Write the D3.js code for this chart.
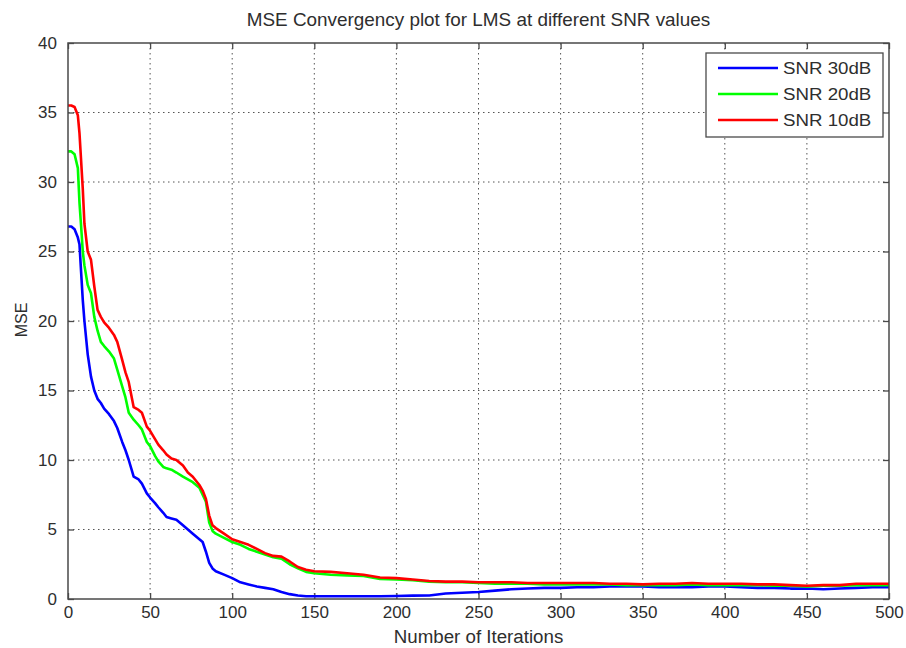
<!DOCTYPE html>
<html>
<head>
<meta charset="utf-8">
<script src="https://cdn.jsdelivr.net/npm/d3@7"></script>
<style>
  body { margin: 0; background: #fff; }
  svg { display: block; font-family: "Liberation Sans", Arial, sans-serif; }
</style>
</head>
<body>
<svg id="chart" width="906" height="648"></svg>
<script>
// Iteration indices at which the MSE learning curves are sampled
const iterations = [0, 2, 4, 6, 7, 8, 9, 10, 12, 14, 16, 18, 20, 22, 25, 28, 30, 33, 35, 37,
  40, 43, 45, 48, 50, 53, 55, 58, 60, 63, 66, 70, 73, 76, 80, 82, 84, 86, 88, 90,
  95, 100, 105, 110, 115, 120, 125, 130, 135, 140, 145, 150, 160, 170, 180, 190, 200,
  210, 220, 230, 240, 250, 260, 270, 280, 290, 300, 310, 320, 330, 340, 350, 360, 370,
  380, 390, 400, 410, 420, 430, 440, 450, 460, 470, 480, 490, 500];

// MSE for SNR = 30 dB
const mseSnr30 = [26.8, 26.8, 26.6, 26.0, 25.5, 23.5, 21.5, 20.0, 17.6, 16.0, 15.0, 14.4, 14.1, 13.7, 13.3, 12.8, 12.3, 11.3, 10.7, 10.0,
  8.8, 8.6, 8.3, 7.6, 7.3, 6.9, 6.6, 6.2, 5.9, 5.8, 5.7, 5.3, 5.0, 4.7, 4.3, 4.1, 3.4, 2.6, 2.2, 2.0,
  1.75, 1.5, 1.2, 1.05, 0.9, 0.8, 0.7, 0.5, 0.35, 0.25, 0.2, 0.2, 0.2, 0.2, 0.2, 0.2, 0.22,
  0.24, 0.25, 0.4, 0.45, 0.5, 0.6, 0.7, 0.75, 0.8, 0.8, 0.85, 0.85, 0.9, 0.9, 0.9, 0.85, 0.85,
  0.85, 0.9, 0.9, 0.85, 0.8, 0.8, 0.75, 0.75, 0.7, 0.75, 0.8, 0.85, 0.85];

// MSE for SNR = 20 dB
const mseSnr20 = [32.2, 32.2, 32.0, 31.0, 28.5, 26.8, 25.0, 24.0, 22.6, 22.0, 20.3, 19.3, 18.5, 18.2, 17.8, 17.3, 16.5, 15.3, 14.5, 13.4,
  12.9, 12.5, 12.2, 11.3, 11.0, 10.3, 9.9, 9.5, 9.4, 9.3, 9.1, 8.8, 8.6, 8.4, 8.0, 7.5, 7.0, 5.5, 4.9, 4.7,
  4.4, 4.1, 3.9, 3.6, 3.4, 3.2, 3.0, 2.9, 2.5, 2.2, 1.95, 1.85, 1.75, 1.7, 1.65, 1.45, 1.4,
  1.35, 1.25, 1.2, 1.2, 1.15, 1.1, 1.1, 1.1, 1.05, 1.05, 1.05, 1.05, 1.05, 1.0, 1.0, 1.0, 1.0,
  1.05, 1.0, 1.0, 1.0, 1.0, 0.95, 0.95, 0.9, 0.95, 0.95, 1.0, 1.0, 1.0];

// MSE for SNR = 10 dB
const mseSnr10 = [35.5, 35.5, 35.4, 34.8, 33.5, 31.5, 29.5, 27.0, 25.0, 24.4, 22.5, 20.8, 20.3, 19.9, 19.5, 19.0, 18.5, 17.2, 16.3, 15.6,
  13.8, 13.6, 13.4, 12.4, 12.1, 11.5, 11.1, 10.7, 10.4, 10.1, 10.0, 9.6, 9.1, 8.8, 8.2, 7.8, 7.2, 6.0, 5.3, 5.1,
  4.7, 4.3, 4.1, 3.9, 3.6, 3.3, 3.1, 3.05, 2.7, 2.3, 2.1, 2.0, 1.95, 1.85, 1.75, 1.55, 1.5,
  1.4, 1.3, 1.25, 1.25, 1.2, 1.2, 1.2, 1.15, 1.15, 1.15, 1.15, 1.15, 1.1, 1.1, 1.05, 1.1, 1.1,
  1.15, 1.1, 1.1, 1.1, 1.05, 1.05, 1.0, 0.95, 1.0, 1.0, 1.1, 1.1, 1.1];

const seriesNames = ["SNR 30dB", "SNR 20dB", "SNR 10dB"];
const seriesColors = ["#0000ff", "#00ff00", "#ff0000"];
const xTickValues = [0, 50, 100, 150, 200, 250, 300, 350, 400, 450, 500];
const yTickValues = [0, 5, 10, 15, 20, 25, 30, 35, 40];

const titleText = "MSE Convergency plot for LMS at different SNR values";
const xLabelText = "Number of Iterations";
const yLabelText = "MSE";

const W = 906, H = 648;
const margin = { left: 68, right: 17, top: 43, bottom: 49 };
const pw = W - margin.left - margin.right;
const ph = H - margin.top - margin.bottom;
const textColor = "#2e2e2e";
const axisColor = "#4a4a4a";

const svg = d3.select("#chart");
svg.append("rect").attr("width", W).attr("height", H).attr("fill", "#fff");

const g = svg.append("g").attr("transform", `translate(${margin.left},${margin.top})`);

const x = d3.scaleLinear().domain([0, 500]).range([0, pw]);
const y = d3.scaleLinear().domain([0, 40]).range([ph, 0]);

// Dotted grid
const grid = g.append("g").attr("stroke", "#555").attr("stroke-width", 1)
  .attr("stroke-dasharray", "1.5,3.5");
grid.selectAll(".gx").data(xTickValues.slice(1, -1)).join("line")
  .attr("x1", d => x(d)).attr("x2", d => x(d)).attr("y1", 0).attr("y2", ph);
grid.selectAll(".gy").data(yTickValues.slice(1, -1)).join("line")
  .attr("y1", d => y(d)).attr("y2", d => y(d)).attr("x1", 0).attr("x2", pw);

// Axes with inward ticks on all four sides
function styleAxis(sel) {
  sel.select(".domain").remove();
  sel.selectAll(".tick line").attr("stroke", axisColor).attr("stroke-width", 1.3);
  sel.selectAll(".tick text").attr("fill", textColor).attr("font-size", 17);
}
const gx = g.append("g").attr("transform", `translate(0,${ph})`)
  .call(d3.axisBottom(x).tickValues(xTickValues).tickSize(-6).tickPadding(7).tickFormat(d3.format("d")));
styleAxis(gx);
const gy = g.append("g")
  .call(d3.axisLeft(y).tickValues(yTickValues).tickSize(-6).tickPadding(11).tickFormat(d3.format("d")));
styleAxis(gy);
const gt = g.append("g").call(d3.axisTop(x).tickValues(xTickValues).tickSize(-6).tickFormat(""));
styleAxis(gt);
const gr = g.append("g").attr("transform", `translate(${pw},0)`)
  .call(d3.axisRight(y).tickValues(yTickValues).tickSize(-6).tickFormat(""));
styleAxis(gr);

// Curves
const allSeries = [mseSnr30, mseSnr20, mseSnr10];
const line = d3.line().x(d => x(d[0])).y(d => y(d[1]));
allSeries.forEach((vals, i) => {
  const pts = iterations.map((it, k) => [it, vals[k]]);
  g.append("path").datum(pts)
    .attr("fill", "none")
    .attr("stroke", seriesColors[i])
    .attr("stroke-width", 2.6)
    .attr("stroke-linejoin", "round")
    .attr("d", line);
});

// Axes frame
g.append("rect").attr("width", pw).attr("height", ph)
  .attr("fill", "none").attr("stroke", axisColor).attr("stroke-width", 1.5);

// Legend
const lg = svg.append("g").attr("transform", "translate(706,53)");
lg.append("rect").attr("width", 177).attr("height", 84)
  .attr("fill", "#fff").attr("stroke", axisColor).attr("stroke-width", 1.3);
seriesNames.forEach((name, i) => {
  const cy = 15 + i * 26;
  lg.append("line").attr("x1", 12).attr("x2", 72).attr("y1", cy).attr("y2", cy)
    .attr("stroke", seriesColors[i]).attr("stroke-width", 2.6);
  lg.append("text").attr("x", 0).attr("y", 0)
    .attr("transform", `translate(77,${cy + 6}) scale(1.1,1)`)
    .attr("font-size", 17).attr("fill", textColor).text(name);
});

// Title and axis labels
svg.append("text").attr("text-anchor", "middle")
  .attr("transform", `translate(${margin.left + pw / 2},26) scale(1.05,1)`)
  .attr("font-size", 18).attr("fill", textColor).text(titleText);
svg.append("text").attr("text-anchor", "middle")
  .attr("transform", `translate(${margin.left + pw / 2},643) scale(1.04,1)`)
  .attr("font-size", 18).attr("fill", textColor).text(xLabelText);
svg.append("text").attr("text-anchor", "middle")
  .attr("transform", `translate(27,320) rotate(-90)`)
  .attr("font-size", 16).attr("fill", textColor).text(yLabelText);
</script>
</body>
</html>
